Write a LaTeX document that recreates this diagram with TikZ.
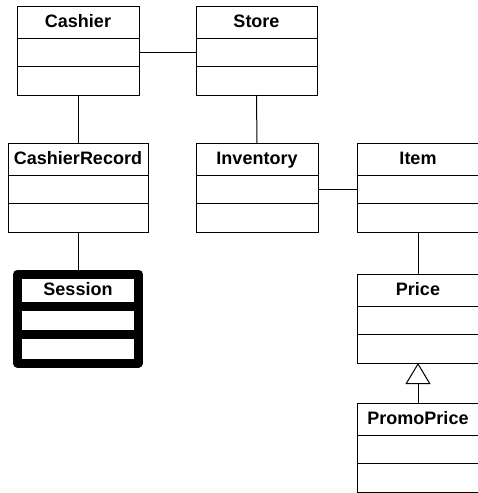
\documentclass[tikz,border=0pt]{standalone}
\usepackage{fontspec}
\setmainfont{Liberation Sans}
\usetikzlibrary{positioning,arrows.meta}
\tikzset{classname/.style={draw,fill=white,line width=1pt,minimum width=122pt,
      minimum height=32pt,inner sep=0pt,outer sep=0pt,text height=13pt,text depth=3pt,
      font=\fontsize{18}{20}\selectfont\bfseries},
    compartment/.style={draw,fill=white,line width=1pt,minimum width=122pt,
      minimum height=28.5pt,inner sep=0pt,outer sep=0pt,below=0pt of #1},
    heavy/.style={line width=9pt,line join=round},
    assoc/.style={line width=1pt},
    }
% one class box: name, attributes, operations
\newcommand{\umlclass}[4][]{%
  \node[classname,#1] (#2) at (#3) {#4};
  \node[compartment=#2,#1] (#2-attr) {};
  \node[compartment=#2-attr,#1] (#2-ops) {};
}

\begin{document}
\begin{tikzpicture}[x=1pt,y=-1pt]
	\useasboundingbox (0,0) rectangle (478,493);
	\umlclass{cashier}{78,22}{Cashier}
	\umlclass[minimum width=121pt]{store}{256.5,22}{Store}
	\umlclass[minimum width=140pt]{cashierrec}{78,159}{CashierRecord}
	\umlclass{inventory}{257,159}{Inventory}
	\umlclass{item}{418,159}{Item}
	\umlclass[heavy,minimum width=121pt]{session}{78,290}{Session}
	\umlclass{price}{418,290}{Price}
	\umlclass{promo}{418,419}{PromoPrice}
	\draw[assoc] (cashier-attr) -- (store-attr);
	\draw[assoc] (cashier-ops) -- (cashierrec);
	\draw[assoc] (store-ops) -- (inventory);
	\draw[assoc] (inventory-attr) -- (item-attr);
	\draw[assoc] (cashierrec-ops) -- (session);
	\draw[assoc] (item-ops) -- (price);
	\draw[assoc,-{Triangle[open,length=21pt,width=25pt]}] (promo) -- (price-ops);%generalization
\end{tikzpicture}
\end{document}
